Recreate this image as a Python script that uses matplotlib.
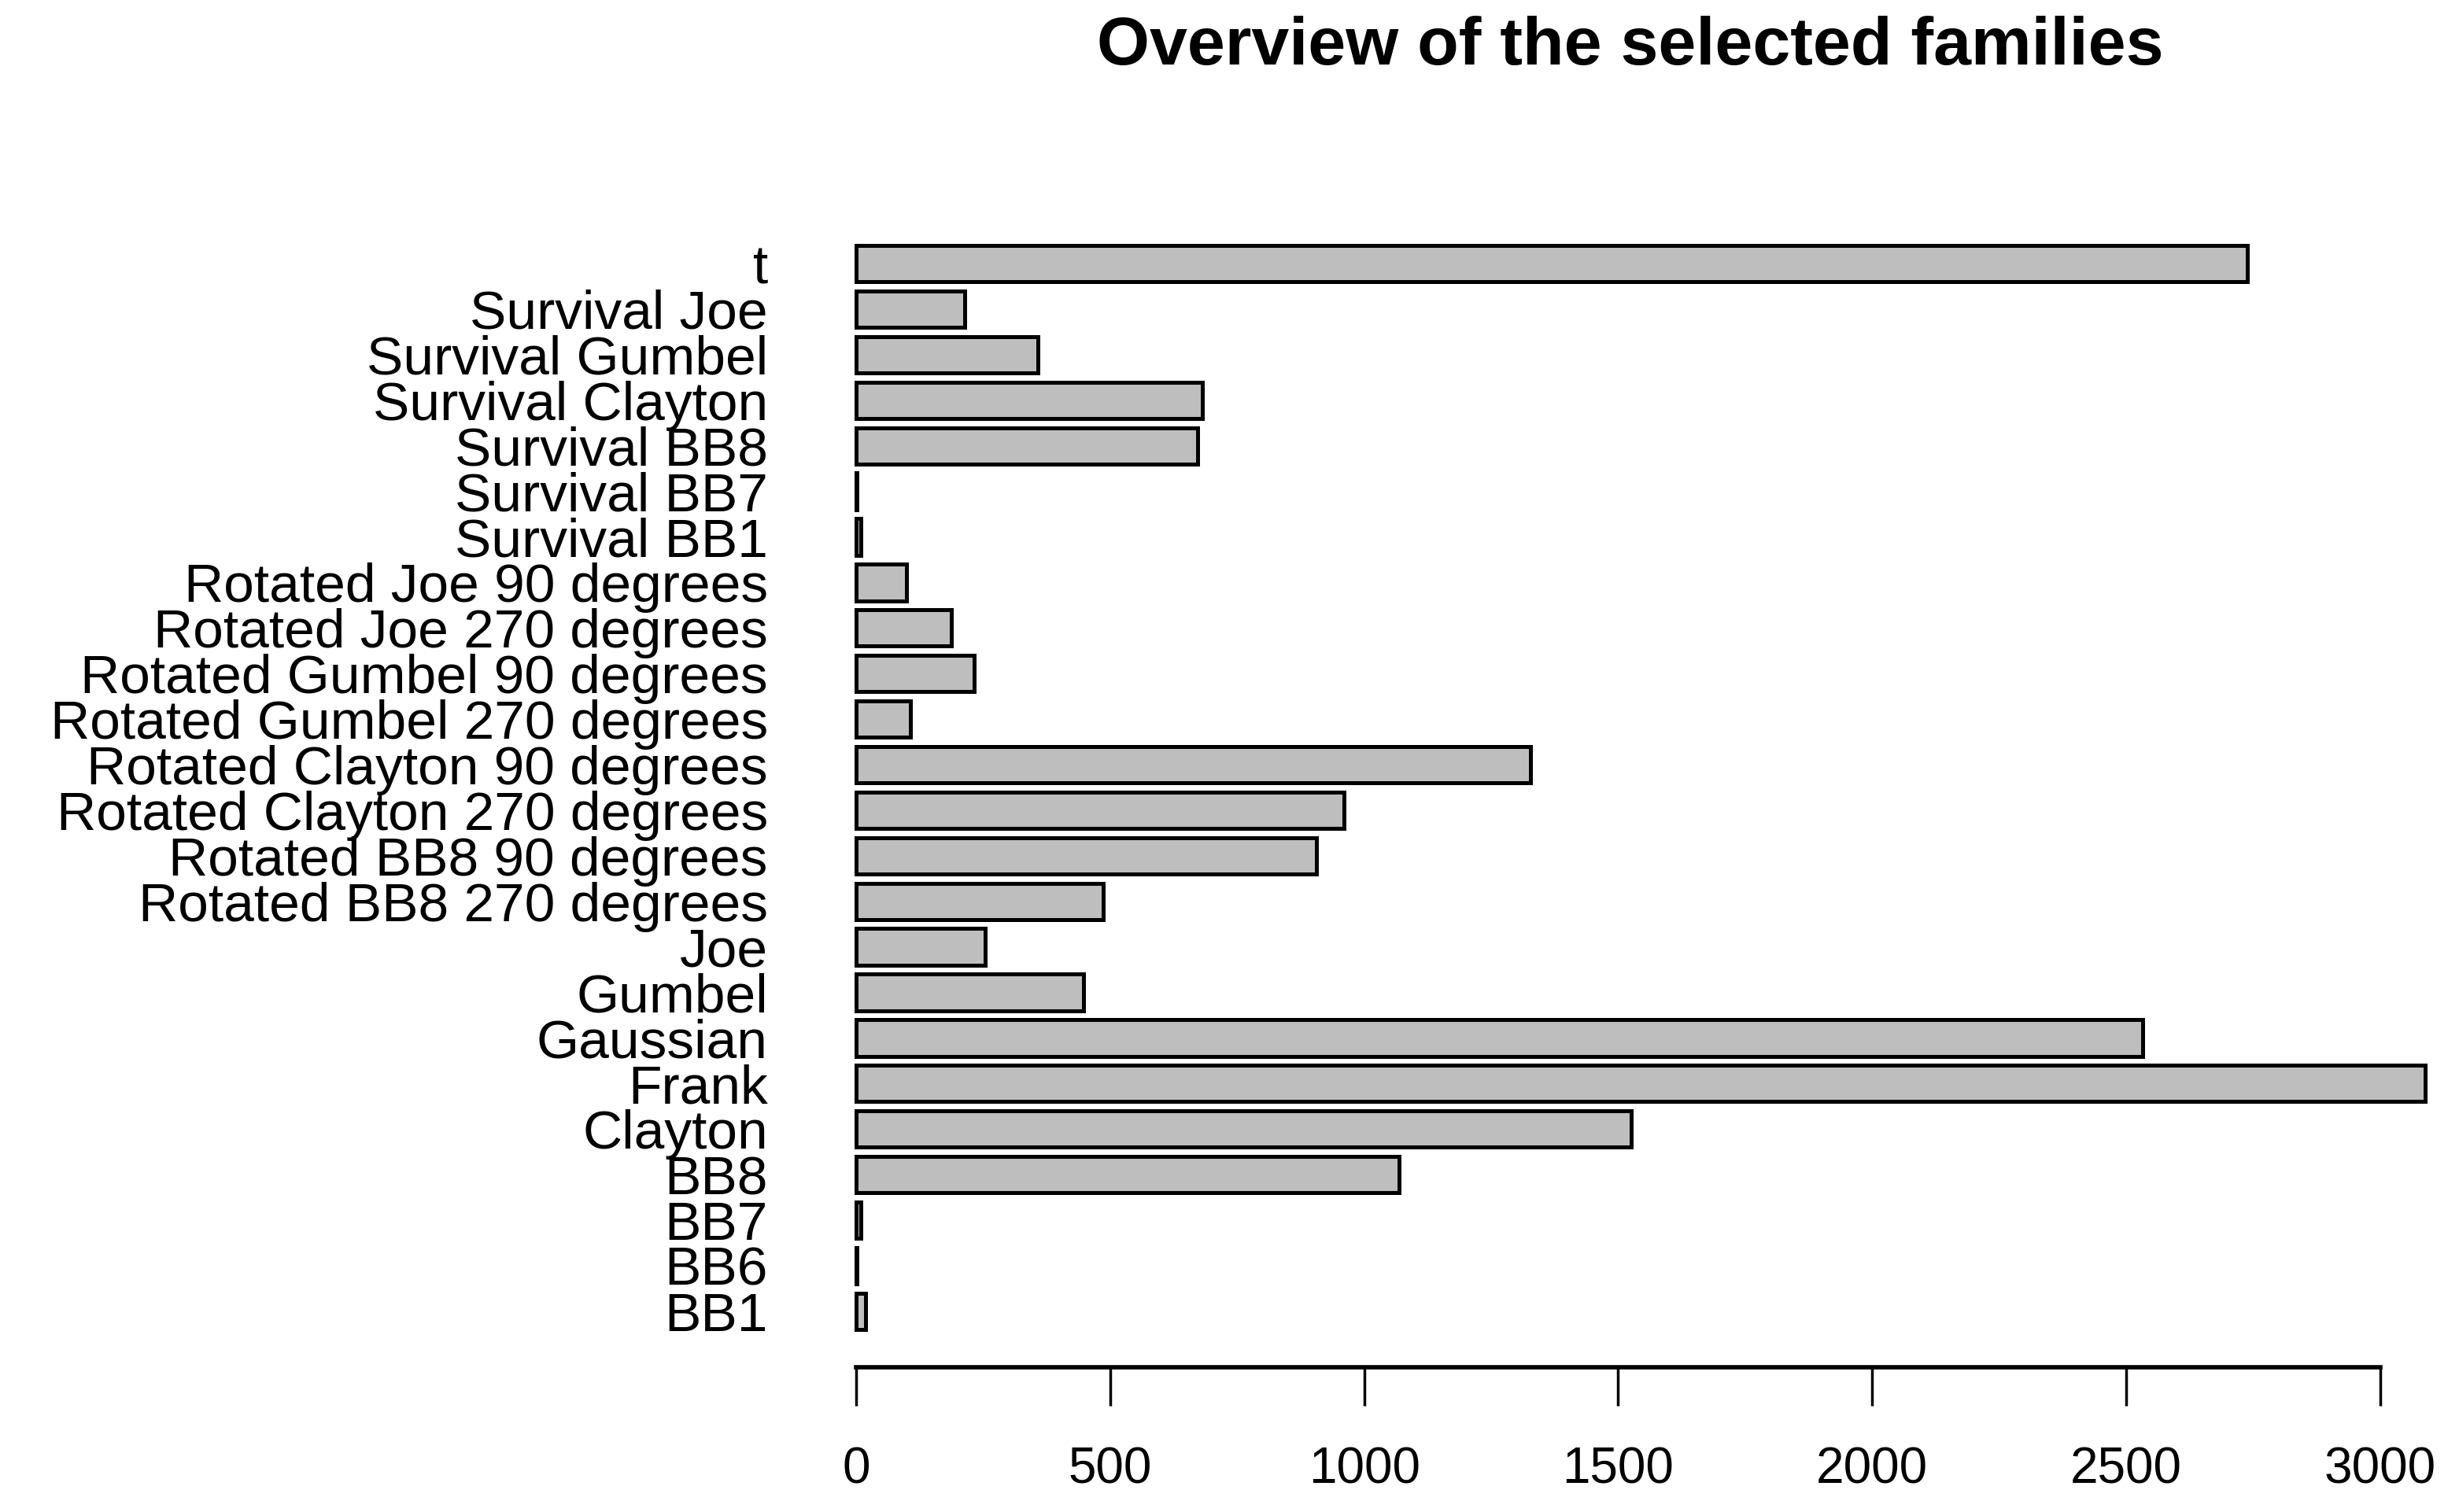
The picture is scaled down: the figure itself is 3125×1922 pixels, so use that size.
import numpy as np
import matplotlib
matplotlib.use("Agg")
import matplotlib.pyplot as plt

plt.rcParams["font.family"] = ["Liberation Sans", "DejaVu Sans"]

GREY = "#bebebe"

# bottom -> top, as R draws a horizontal barplot
families = ["BB1", "BB6", "BB7", "BB8", "Clayton", "Frank", "Gaussian",
            "Gumbel", "Joe", "Rotated BB8 270 degrees", "Rotated BB8 90 degrees",
            "Rotated Clayton 270 degrees", "Rotated Clayton 90 degrees",
            "Rotated Gumbel 270 degrees", "Rotated Gumbel 90 degrees",
            "Rotated Joe 270 degrees", "Rotated Joe 90 degrees",
            "Survival BB1", "Survival BB7", "Survival BB8", "Survival Clayton",
            "Survival Gumbel", "Survival Joe", "t"]
counts = [18, 1, 9, 1068, 1525, 3089, 2532,
          448, 254, 486, 906,
          960, 1328,
          107, 233,
          188, 99,
          9, 1, 673, 682,
          358, 214, 2739]
xticks = [0, 500, 1000, 1500, 2000, 2500, 3000]

W, H = 3125, 1922
fig = plt.figure(figsize=(W / 100, H / 100), dpi=100)
ax = fig.add_axes([1010.5 / W, 1 - 1738 / H, 1 - 1010.5 / W, (1738 - 288.2) / H])

y = np.arange(len(families))
ax.barh(y, counts, height=0.8, color=GREY, edgecolor="black", linewidth=3.6)

ax.set_xlim(-120, 3155)
ax.set_ylim(-1.23, 23.81)

ax.set_yticks(y)
ax.set_yticklabels(families, fontsize=50)
ax.tick_params(axis="y", length=0, pad=25)

ax.set_xticks(xticks)
ax.set_xticklabels([str(t) for t in xticks], fontsize=46)
ax.tick_params(axis="x", length=35, width=2.5, pad=37)

for s in ["top", "right", "left"]:
    ax.spines[s].set_visible(False)
ax.spines["bottom"].set_bounds(0, 3000)
ax.spines["bottom"].set_linewidth(4)

fig.text(2072 / W, 1 - 82 / H, "Overview of the selected families",
         ha="center", va="baseline", fontsize=62, fontweight="bold")

fig.savefig("out.png", dpi=100)
